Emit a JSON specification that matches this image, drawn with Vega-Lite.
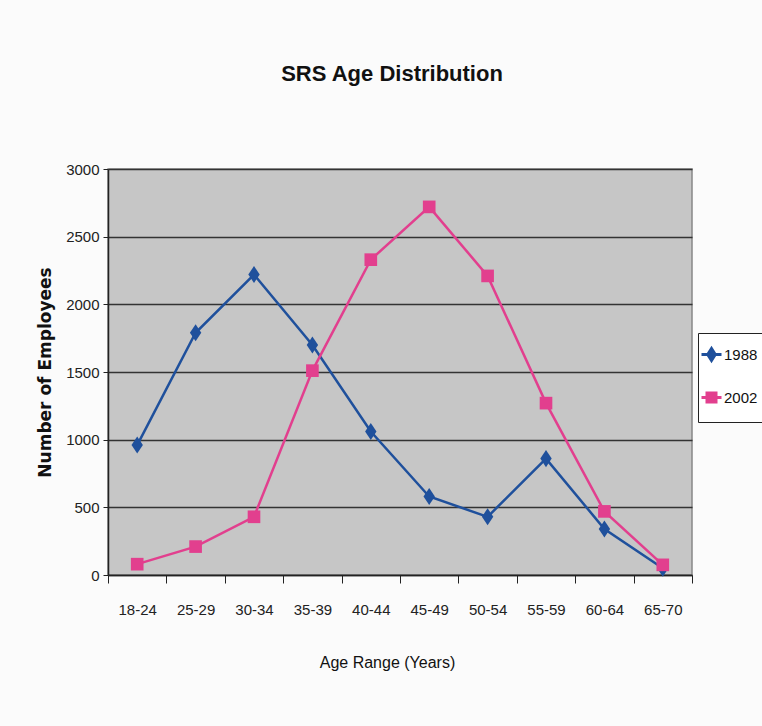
{
  "$schema": "https://vega.github.io/schema/vega-lite/v6.json",
  "autosize": "none",
  "width": 584,
  "height": 406,
  "padding": {"left": 108, "top": 169, "right": 70, "bottom": 151},
  "background": "#fbfbfb",
  "title": {
    "text": "SRS Age Distribution",
    "font": "Liberation Sans",
    "fontSize": 22,
    "fontWeight": "bold",
    "color": "#111",
    "anchor": "middle",
    "dx": -8,
    "offset": 76
  },
  "data": {
    "values": [
      {"age": "18-24", "year": "1988", "n": 960},
      {"age": "25-29", "year": "1988", "n": 1790},
      {"age": "30-34", "year": "1988", "n": 2220},
      {"age": "35-39", "year": "1988", "n": 1700},
      {"age": "40-44", "year": "1988", "n": 1060},
      {"age": "45-49", "year": "1988", "n": 580},
      {"age": "50-54", "year": "1988", "n": 430},
      {"age": "55-59", "year": "1988", "n": 860},
      {"age": "60-64", "year": "1988", "n": 340},
      {"age": "65-70", "year": "1988", "n": 50},
      {"age": "18-24", "year": "2002", "n": 80},
      {"age": "25-29", "year": "2002", "n": 210},
      {"age": "30-34", "year": "2002", "n": 430},
      {"age": "35-39", "year": "2002", "n": 1510},
      {"age": "40-44", "year": "2002", "n": 2330},
      {"age": "45-49", "year": "2002", "n": 2720},
      {"age": "50-54", "year": "2002", "n": 2210},
      {"age": "55-59", "year": "2002", "n": 1270},
      {"age": "60-64", "year": "2002", "n": 470},
      {"age": "65-70", "year": "2002", "n": 75}
    ]
  },
  "config": {
    "view": {"fill": "#c6c6c6", "stroke": "#888", "strokeWidth": 1.5}
  },
  "encoding": {
    "x": {
      "field": "age", "type": "nominal", "sort": null,
      "scale": {"paddingInner": 0, "paddingOuter": 0},
      "axis": {
        "title": "Age Range (Years)",
        "labelAngle": 0,
        "tickBand": "extent",
        "tickSize": 8,
        "tickColor": "#222",
        "domainColor": "#222",
        "domainWidth": 1.5,
        "labelFont": "Liberation Sans",
        "labelFontSize": 15,
        "labelColor": "#222",
        "labelPadding": 19,
        "titleFont": "Liberation Sans",
        "titleFontSize": 16,
        "titleFontWeight": "normal",
        "titleColor": "#111",
        "titlePadding": 37,
        "titleX": 279
      }
    },
    "y": {
      "field": "n", "type": "quantitative",
      "scale": {"domain": [0, 3000], "nice": false},
      "axis": {
        "title": "Number of Employees",
        "values": [0, 500, 1000, 1500, 2000, 2500, 3000],
        "format": "d",
        "grid": true,
        "gridColor": "#333",
        "gridWidth": 1.3,
        "tickSize": 5,
        "tickColor": "#222",
        "domainColor": "#222",
        "domainWidth": 1.5,
        "labelFont": "Liberation Sans",
        "labelFontSize": 15,
        "labelColor": "#222",
        "labelPadding": 4,
        "titleFont": "DejaVu Sans",
        "titleFontSize": 17,
        "titleFontWeight": "bold",
        "titleColor": "#111",
        "titlePadding": 11
      }
    },
    "color": {
      "field": "year", "type": "nominal",
      "scale": {"domain": ["1988", "2002"], "range": ["#1f509c", "#e23f8e"]},
      "legend": {
        "title": null,
        "orient": "none",
        "legendX": 590,
        "legendY": 164,
        "strokeColor": "#222",
        "fillColor": "#fff",
        "padding": 14,
        "symbolSize": 100,
        "symbolOffset": -8,
        "symbolStrokeWidth": 3,
        "labelFont": "Liberation Sans",
        "labelFontSize": 15,
        "labelColor": "#111",
        "labelOffset": 5,
        "rowPadding": 20,
        "encode": {
          "symbols": {
            "update": {
              "shape": {"signal": "datum.value === '1988' ? 'M-2,0H2M0,-1.2L0.75,0L0,1.2L-0.75,0Z' : 'M-2,0H2M-0.9,-0.9H0.9V0.9H-0.9Z'"},
              "fill": {"signal": "datum.value === '1988' ? '#1f509c' : '#e23f8e'"},
              "stroke": {"signal": "datum.value === '1988' ? '#1f509c' : '#e23f8e'"},
              "strokeWidth": {"value": 3}
            }
          }
        }
      }
    }
  },
  "layer": [
    {
      "mark": {"type": "line", "strokeWidth": 2.5}
    },
    {
      "mark": {"type": "point", "filled": true, "opacity": 1, "size": 160},
      "encoding": {
        "shape": {
          "field": "year", "type": "nominal",
          "scale": {"range": ["M0,-1.35L0.9,0L0,1.35L-0.9,0Z", "square"]},
          "legend": null
        }
      }
    }
  ]
}
